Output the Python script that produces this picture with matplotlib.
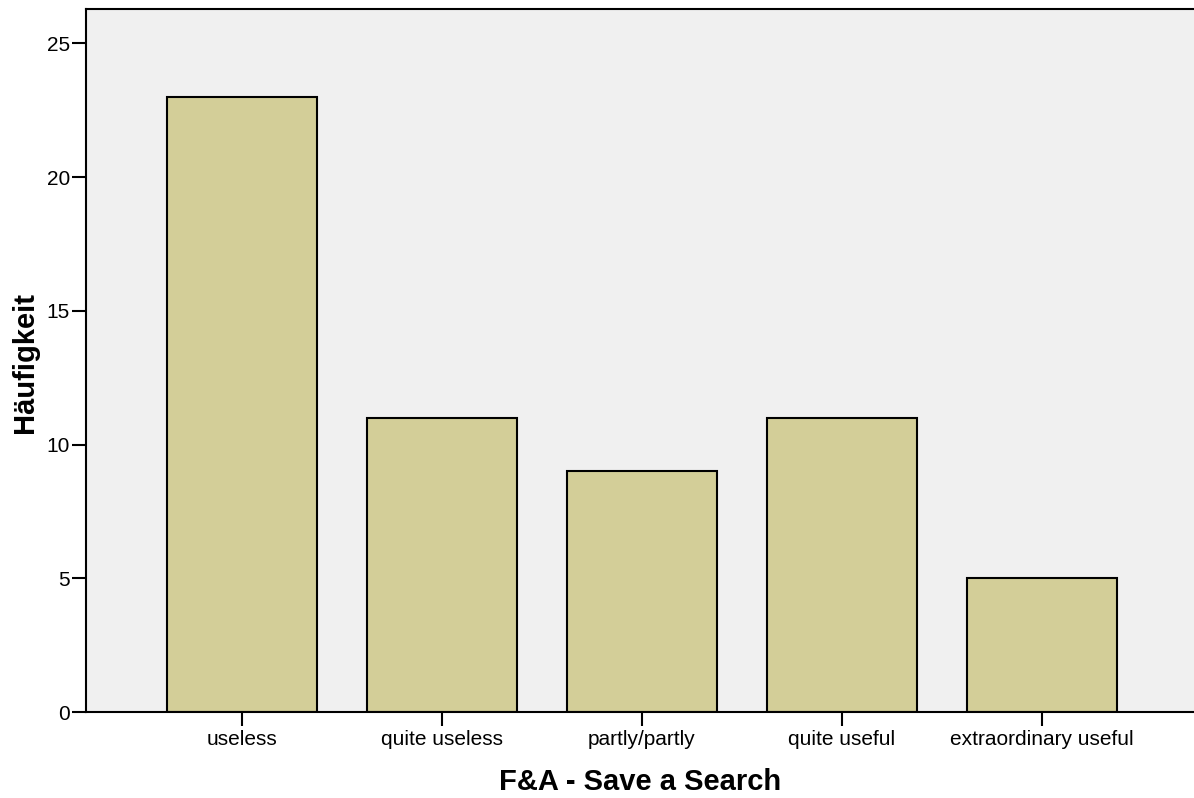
import matplotlib
matplotlib.use("Agg")
import matplotlib.pyplot as plt

categories = ["useless", "quite useless", "partly/partly", "quite useful", "extraordinary useful"]
counts = [23, 11, 9, 11, 5]
yticks = [0, 5, 10, 15, 20, 25]

plt.rcParams['font.family'] = ['Liberation Sans', 'DejaVu Sans']

fig = plt.figure(figsize=(11.94, 7.98), dpi=100)
ax = fig.add_axes([86/1194, 1 - 712/798, 1 - 86/1194, (712 - 9)/798])
ax.set_facecolor('#F0F0F0')

x = list(range(len(categories)))
ax.bar(x, counts, width=0.75, color='#D3CE98', edgecolor='black', linewidth=1.5, zorder=2)

ax.set_xlim(-0.78, 4.76)
ax.set_ylim(0, 26.29)
ax.set_xticks(x)
ax.set_xticklabels(categories, fontsize=15)
ax.set_yticks(yticks)
ax.set_yticklabels([str(v) for v in yticks], fontsize=15)
ax.tick_params(axis='both', direction='out', length=10, width=1.5)
ax.tick_params(axis='x', pad=3)
ax.tick_params(axis='y', pad=1.5)

for side in ['left', 'top', 'bottom']:
    ax.spines[side].set_linewidth(1.5)
ax.spines['right'].set_visible(False)

ax.set_xlabel("F&A - Save a Search", fontsize=21, fontweight='bold', va='center')
ax.xaxis.set_label_coords(0.5, (712 - 782) / 703)
ax.set_ylabel("Häufigkeit", fontsize=21, fontweight='bold', va='center')
ax.yaxis.set_label_coords((25 - 86) / 1108, 0.5 - 2 / 703)

fig.savefig("out.png", dpi=100)
